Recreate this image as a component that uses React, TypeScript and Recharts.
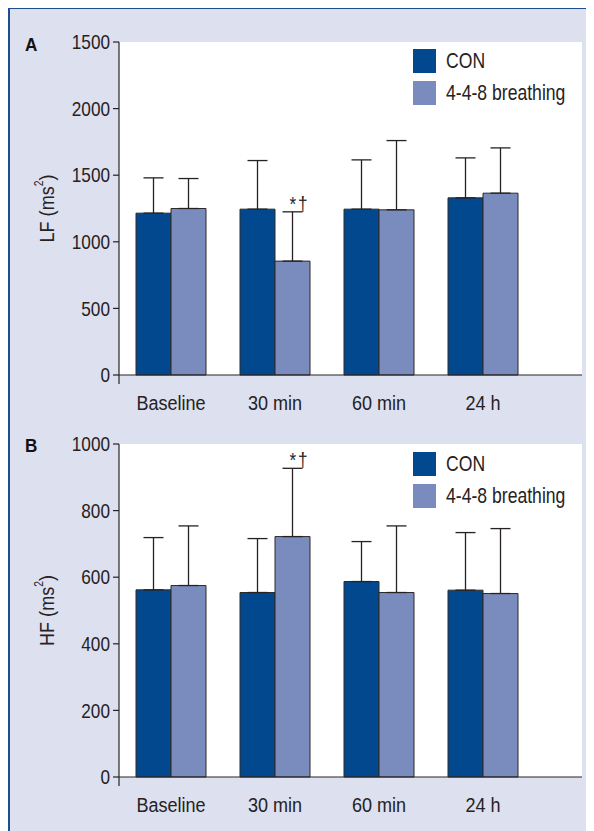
import { BarChart, Bar, XAxis, YAxis, CartesianGrid, ErrorBar, LabelList, Legend } from "recharts";

const categories = ["Baseline", "30 min", "60 min", "24 h"];

const lfCon = [1215, 1245, 1245, 1330];
const lfConSd = [265, 365, 370, 300];
const lfBreath = [1250, 855, 1240, 1365];
const lfBreathSd = [225, 370, 520, 340];

const hfCon = [562, 554, 587, 561];
const hfConSd = [157, 162, 120, 173];
const hfBreath = [575, 722, 554, 551];
const hfBreathSd = [179, 205, 200, 195];

const sigMarks = ["", "*†", "", ""];
const seriesNames = ["CON", "4-4-8 breathing"];

const lfTicks = [0, 500, 1000, 1500, 2000, 2500];
const lfTickLabels = ["0", "500", "1000", "1500", "2000", "1500"];
const hfTicks = [0, 200, 400, 600, 800, 1000];
const hfTickLabels = ["0", "200", "400", "600", "800", "1000"];

const FONT = "'Liberation Sans', Arial, sans-serif";
const INK = "#262223";
const CON_FILL = "#02488e";
const BREATH_FILL = "#7a8bbd";
const LAVENDER = "#dde0ee";
const SQUEEZE = 0.86; // the original uses a condensed face

function buildData(con: number[], conSd: number[], br: number[], brSd: number[]) {
  return categories.map((cat, i) => ({
    cat,
    con: con[i],
    conErr: [0, conSd[i]],
    breath: br[i],
    breathErr: [0, brSd[i]],
    breathSd: brSd[i],
    sig: sigMarks[i],
  }));
}

const lfData = buildData(lfCon, lfConSd, lfBreath, lfBreathSd);
const hfData = buildData(hfCon, hfConSd, hfBreath, hfBreathSd);

function NarrowText({ x, y, anchor, size, dy, spacing, children }: any) {
  return (
    <text
      transform={`translate(${x},${y}) scale(${SQUEEZE},1)`}
      x={0}
      y={0}
      dy={dy}
      textAnchor={anchor}
      fill={INK}
      fontSize={size}
      fontFamily={FONT}
      letterSpacing={spacing}
    >
      {children}
    </text>
  );
}

// y tick: label plus, for the 0 tick, the short stub of axis below the baseline
function YTick(props: any) {
  const { x, y, payload, index, labels } = props;
  const axisX = x + 9;
  return (
    <g>
      <NarrowText x={x} y={y} dy="0.355em" anchor="end" size={20}>
        {labels[index]}
      </NarrowText>
      {payload.value === 0 && <line x1={axisX} x2={axisX} y1={y} y2={y + 9} stroke={INK} strokeWidth={1.2} />}
    </g>
  );
}

function XTick(props: any) {
  const { x, y, payload } = props;
  return (
    <NarrowText x={x} y={y} dy="0.71em" anchor="middle" size={21}>
      {payload.value}
    </NarrowText>
  );
}

function AxisTitle(props: any) {
  const vb = props.viewBox;
  const cx = vb.x + 38;
  const cy = vb.y + vb.height / 2;
  return (
    <text
      transform={`translate(${cx},${cy}) rotate(-90) scale(${SQUEEZE},1)`}
      x={0}
      y={0}
      textAnchor="middle"
      dominantBaseline="central"
      fill={INK}
      fontSize={21}
      fontFamily={FONT}
    >
      {props.name} (ms
      <tspan fontSize={12} dy={-7}>2</tspan>
      <tspan dy={7}>)</tspan>
    </text>
  );
}

function LegendBox(props: any) {
  const items = [...(props.payload || [])].sort(
    (a: any, b: any) => seriesNames.indexOf(a.value) - seriesNames.indexOf(b.value)
  );
  return (
    <div style={{ fontFamily: FONT }}>
      {items.map((it: any) => (
        <div key={it.value} style={{ display: "flex", alignItems: "center", height: 24, marginBottom: 8 }}>
          <div style={{ width: 23, height: 24, background: it.color, flex: "none" }} />
          <span
            style={{
              marginLeft: 10,
              fontSize: 22,
              color: INK,
              lineHeight: "24px",
              whiteSpace: "nowrap",
              display: "inline-block",
              transform: "scaleX(0.8)",
              transformOrigin: "left center",
            }}
          >
            {it.value}
          </span>
        </div>
      ))}
    </div>
  );
}

function Panel({ data, ticks, labels, max, title, letter, top, height, marginTop, marginBottom, letterTop, legendTop }: any) {
  const sigLabel = (p: any) => {
    const vb = p.viewBox || p;
    const idx = p.index;
    if (!p.value) return null;
    const d = data[idx];
    const errTop = vb.y - (d.breathSd * vb.height) / d.breath;
    return (
      <NarrowText x={vb.x + vb.width / 2 - 3} y={errTop - 1} anchor="start" size={20} spacing={2}>
        {p.value}
      </NarrowText>
    );
  };

  return (
    <div style={{ position: "absolute", left: 0, top, width: 586, height }}>
      <div
        style={{
          position: "absolute",
          left: 17,
          top: letterTop,
          fontFamily: FONT,
          fontWeight: "bold",
          fontSize: 19,
          lineHeight: "18px",
          color: "#111",
          transform: "scaleX(0.9)",
          transformOrigin: "left center",
        }}
      >
        {letter}
      </div>
      <BarChart
        width={586}
        height={height}
        data={data}
        margin={{ top: marginTop, right: 12, bottom: marginBottom, left: 0 }}
        barGap={0}
        barCategoryGap={17}
      >
        <CartesianGrid horizontal={false} vertical={false} fill="#ffffff" stroke="none" />
        <XAxis
          dataKey="cat"
          height={40}
          interval={0}
          padding={{ left: 0, right: 47 }}
          axisLine={{ stroke: INK, strokeWidth: 1.2 }}
          tickLine={false}
          tickSize={0}
          tickMargin={20}
          tick={<XTick />}
        />
        <YAxis
          type="number"
          domain={[0, max]}
          ticks={ticks}
          interval={0}
          width={111}
          axisLine={{ stroke: INK, strokeWidth: 1.2 }}
          tickLine={{ stroke: INK, strokeWidth: 1.2 }}
          tickSize={6}
          tickMargin={3}
          tick={<YTick labels={labels} />}
          label={<AxisTitle name={title} />}
        />
        <Legend
          verticalAlign="middle"
          align="center"
          layout="vertical"
          content={<LegendBox />}
          wrapperStyle={{ top: legendTop, left: 405, width: 180 }}
        />
        <Bar dataKey="con" name="CON" fill={CON_FILL} stroke="#2a2a2a" strokeWidth={1} barSize={35} isAnimationActive={false}>
          <ErrorBar dataKey="conErr" direction="y" width={10} stroke={INK} strokeWidth={1.3} />
        </Bar>
        <Bar
          dataKey="breath"
          name="4-4-8 breathing"
          fill={BREATH_FILL}
          stroke="#2a2a2a"
          strokeWidth={1}
          barSize={35}
          isAnimationActive={false}
        >
          <ErrorBar dataKey="breathErr" direction="y" width={10} stroke={INK} strokeWidth={1.3} />
          <LabelList dataKey="sig" content={sigLabel} />
        </Bar>
      </BarChart>
    </div>
  );
}

export default function App() {
  return (
    <div
      style={{
        position: "relative",
        width: 586,
        height: 824,
        marginTop: -1,
        background: LAVENDER,
        boxShadow: "inset 2px 2px 0 #1d4f8e",
      }}
    >
      <Panel
        data={lfData}
        ticks={lfTicks}
        labels={lfTickLabels}
        max={2500}
        title="LF"
        letter="A"
        top={1}
        height={411}
        marginTop={34}
        marginBottom={4}
        letterTop={27.7}
        legendTop={41}
      />
      <Panel
        data={hfData}
        ticks={hfTicks}
        labels={hfTickLabels}
        max={1000}
        title="HF"
        letter="B"
        top={412}
        height={412}
        marginTop={25}
        marginBottom={14}
        letterTop={429.7 - 412}
        legendTop={33}
      />
    </div>
  );
}
